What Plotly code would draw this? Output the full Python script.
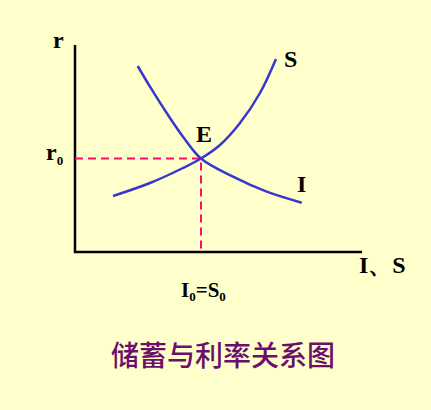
import plotly.graph_objects as go

# Data (abstract units; origin at the axes corner)
s_x = [38, 75, 108, 126, 145, 165, 185, 201]
s_y = [56, 69, 84, 93.5, 107, 129, 159, 193]
i_x = [62.7, 75, 91.7, 108, 126, 158, 191.7, 226.7]
i_y = [186, 165.3, 139, 115.3, 93.5, 75.3, 60.3, 49.3]
e_x, e_y = 126, 93.5
x_axis_len, y_axis_len = 287, 207

title_text = "储蓄与利率关系图"

blue = "#3737CF"
red = "#FF0A6A"
bg = "#FFFFCC"
serif = "Liberation Serif, Times New Roman, serif"

fig = go.Figure()
# axes
fig.add_trace(go.Scatter(x=[0, 0, x_axis_len], y=[y_axis_len, 0, 0], mode="lines",
                         line=dict(color="black", width=2.5), hoverinfo="skip"))
# dashed guides
fig.add_trace(go.Scatter(x=[0, e_x, e_x], y=[e_y, e_y, 0], mode="lines",
                         line=dict(color=red, width=2, dash="8px,5px"), hoverinfo="skip"))
# curves
fig.add_trace(go.Scatter(x=s_x, y=s_y, mode="lines", line=dict(color=blue, width=2.5, shape="spline"),
                         hoverinfo="skip"))
fig.add_trace(go.Scatter(x=i_x, y=i_y, mode="lines", line=dict(color=blue, width=2.5, shape="spline"),
                         hoverinfo="skip"))

def lab(text, x, y, size=24, color="black", family=serif, bold=True, weight=None):
    t = f"<b>{text}</b>" if bold else text
    f = dict(family=family, size=size, color=color)
    if weight:
        f["weight"] = weight
    fig.add_annotation(x=x, y=y, text=t, showarrow=False, xanchor="center", yanchor="middle", font=f)

lab("r", 58 - 75, 252 - 40)
lab("r<sub><span style='font-size:13px'>0</span></sub>", 54.5 - 75, 252 - 153)
lab("E", 204 - 75, 252 - 134)
lab("S", 290.5 - 75, 252 - 59)
lab("I", 301 - 75, 252 - 184)
lab("I、S", 382.5 - 75, 252 - 265)
lab("I<sub><span style='font-size:13px'>0</span></sub>=S<sub><span style='font-size:13px'>0</span></sub>",
    203.5 - 75, 252 - 291, size=21)
lab(title_text, 222.5 - 75, 252 - 354, size=28, color="#6B0F6B",
    family="Noto Sans CJK SC, sans-serif", bold=False, weight=500)

fig.update_layout(
    width=431, height=410, margin=dict(l=0, r=0, t=0, b=0),
    paper_bgcolor=bg, plot_bgcolor=bg, showlegend=False,
    xaxis=dict(range=[-75, 356], visible=False, fixedrange=True),
    yaxis=dict(range=[-158, 252], visible=False, fixedrange=True),
)
fig.write_html("out.html", config={"displayModeBar": False},
               post_script="document.body.style.margin='0';document.body.style.background='%s';" % bg)
